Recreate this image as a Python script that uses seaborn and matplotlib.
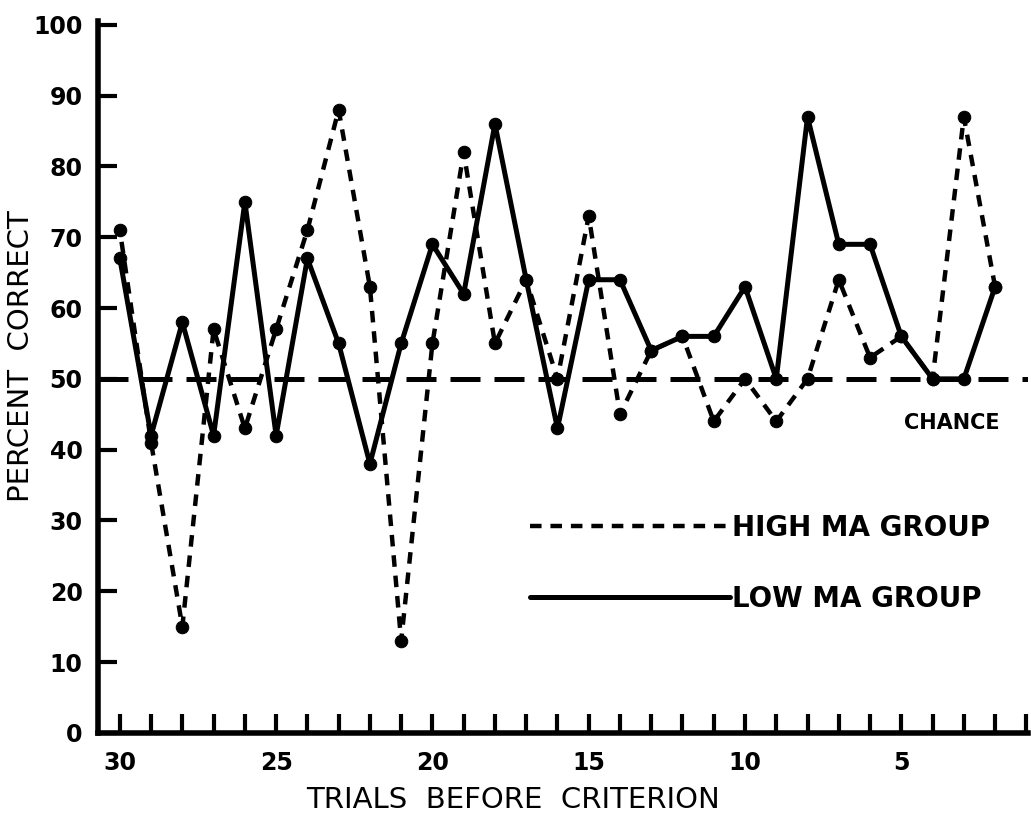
import numpy as np
import pandas as pd
import seaborn as sns
import matplotlib.pyplot as plt
from matplotlib.lines import Line2D

# —— DATA —— #
TRIALS = list(range(30, 1, -1))
HIGH_MA = [71, 41, 15, 57, 43, 57, 71, 88, 63, 13, 55, 82, 55, 64, 50,
           73, 45, 54, 56, 44, 50, 44, 50, 64, 53, 56, 50, 87, 63]
LOW_MA = [67, 42, 58, 42, 75, 42, 67, 55, 38, 55, 69, 62, 86, 64, 43,
          64, 64, 54, 56, 56, 63, 50, 87, 69, 69, 56, 50, 50, 63]
CHANCE = 50
X_TICKS = [30, 25, 20, 15, 10, 5]
Y_TICKS = list(range(0, 101, 10))

# —— STYLE —— #
sns.set_style('white')
plt.rcParams['font.family'] = ['DejaVu Sans']
plt.rcParams['text.color'] = 'black'
plt.rcParams['axes.labelcolor'] = 'black'
plt.rcParams['xtick.color'] = 'black'
plt.rcParams['ytick.color'] = 'black'

DASHED = (0, (2.6, 2.0))

fig = plt.figure(figsize=(10.31, 8.18), dpi=100)
ax = fig.add_axes([0.095, 0.104, 0.902, 0.870])

df = pd.DataFrame({'trial': TRIALS, 'high': HIGH_MA, 'low': LOW_MA})

sns.lineplot(data=df, x='trial', y='high', ax=ax, color='black',
             linewidth=3.2, linestyle=DASHED, marker='o',
             markersize=9, markeredgecolor='black')
sns.lineplot(data=df, x='trial', y='low', ax=ax, color='black',
             linewidth=3.6, linestyle='-', marker='o',
             markersize=9, markeredgecolor='black')

ax.axhline(CHANCE, color='black', linewidth=3.6, linestyle=(0, (6, 2.8)))
ax.text(0.97, 0.435, 'CHANCE', transform=ax.transAxes, ha='right',
        va='center', fontsize=15, fontweight='bold')

# key drawn as a legend
handles = [
    Line2D([], [], color='black', lw=3.2, linestyle=DASHED),
    Line2D([], [], color='black', lw=3.6, linestyle='-'),
]
ax.legend(handles, ['HIGH MA GROUP', 'LOW MA GROUP'],
          loc='center left', bbox_to_anchor=(0.438, 0.238),
          frameon=False, handlelength=7.2, handletextpad=0.05,
          labelspacing=1.55, prop={'weight': 'bold', 'size': 20})

ax.set_xlim(30.7, 0.95)
ax.set_ylim(0, 100.5)
ax.set_xticks(TRIALS + [1])
ax.set_xticklabels([str(t) if t in X_TICKS else '' for t in TRIALS + [1]],
                   fontsize=17, fontweight='bold')
ax.set_yticks(Y_TICKS)
ax.set_yticklabels([str(v) for v in Y_TICKS], fontsize=17, fontweight='bold')
ax.tick_params(axis='x', bottom=True, direction='in', length=14, width=3, pad=13)
ax.tick_params(axis='y', left=True, direction='in', length=14, width=3, pad=11)

for side in ['top', 'right']:
    ax.spines[side].set_visible(False)
for side in ['left', 'bottom']:
    ax.spines[side].set_linewidth(4)
    ax.spines[side].set_color('black')

ax.set_xlabel('TRIALS  BEFORE  CRITERION', fontsize=21)
ax.set_ylabel('PERCENT  CORRECT', fontsize=21)
ax.xaxis.set_label_coords(0.446, -0.074)
ax.yaxis.set_label_coords(-0.068, 0.53)

fig.savefig('out.png', dpi=100)
